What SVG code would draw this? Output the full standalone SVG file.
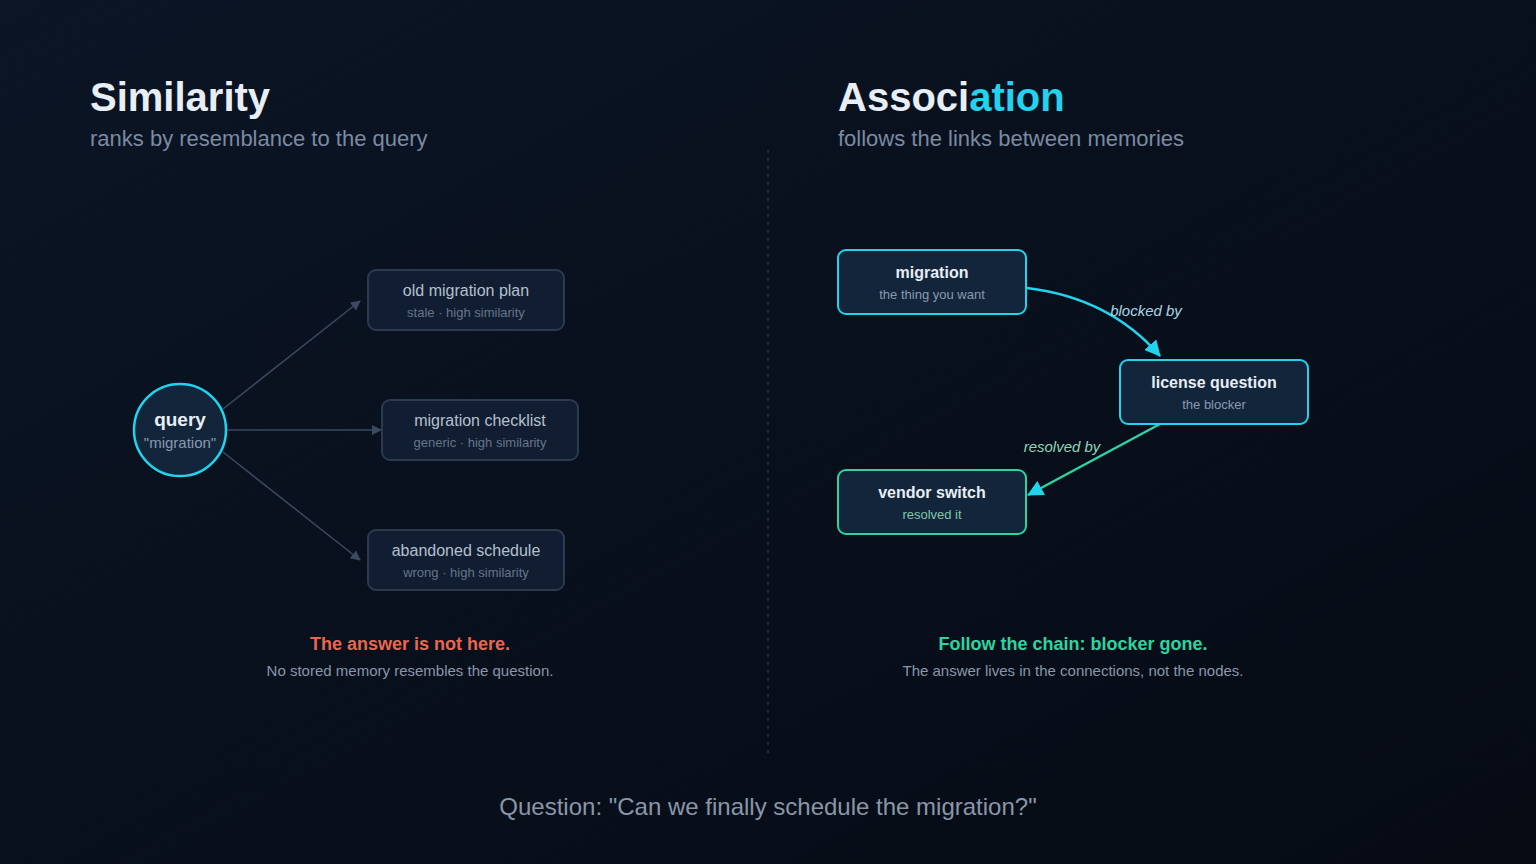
<svg xmlns="http://www.w3.org/2000/svg" width="1536" height="864" viewBox="0 0 1536 864">
<defs>
<linearGradient id="bg" x1="0" y1="0" x2="1" y2="1"><stop offset="0" stop-color="#0b1525"/><stop offset="1" stop-color="#060b14"/></linearGradient>
<marker id="ag" markerWidth="10" markerHeight="10" refX="9" refY="5" orient="auto" markerUnits="userSpaceOnUse"><path d="M0,0 L10,5 L0,10 z" fill="#3b4a60"/></marker>
<marker id="ac" markerWidth="16" markerHeight="16" refX="15" refY="8" orient="auto" markerUnits="userSpaceOnUse"><path d="M0,0 L16,8 L0,16 z" fill="#22d3ee"/></marker>
</defs>
<style>
text{font-family:"Liberation Sans",Arial,sans-serif;text-anchor:middle}
.h{font-size:40px;font-weight:bold;fill:#e8eef6;text-anchor:start}
.s{font-size:22px;fill:#7b8aa0;text-anchor:start}
.gb{fill:#111d30;stroke:#2c3a50;stroke-width:2}
.gt{font-size:16px;fill:#b4c0d0}
.gs{font-size:13px;fill:#66758a}
.nb{fill:#12253b;stroke-width:2}
.nt{font-size:16px;font-weight:bold;fill:#e8eef6}
.ns{font-size:13px;fill:#8a9ab0}
.lbl{font-size:15px;font-style:italic}
</style>
<rect width="1536" height="864" fill="url(#bg)"/>
<text class="h" x="90" y="111">Similarity</text>
<text class="s" x="90" y="146">ranks by resemblance to the query</text>
<text class="h" x="838" y="111">Associ<tspan fill="#22d3ee">ation</tspan></text>
<text class="s" x="838" y="146">follows the links between memories</text>
<line x1="768" y1="150" x2="768" y2="755" stroke="#2a3547" stroke-width="1.5" stroke-dasharray="3,5"/>
<g id="connectors">
<line x1="223" y1="409" x2="360" y2="301" stroke="#3b4a60" stroke-width="1.5" marker-end="url(#ag)"/>
<line x1="227" y1="430" x2="381" y2="430" stroke="#3b4a60" stroke-width="1.5" marker-end="url(#ag)"/>
<line x1="223" y1="452" x2="360" y2="560" stroke="#3b4a60" stroke-width="1.5" marker-end="url(#ag)"/>
<path d="M1027,288 Q1110,298 1160,356" fill="none" stroke="#22d3ee" stroke-width="2.5" marker-end="url(#ac)"/>
<line x1="1160" y1="424" x2="1028" y2="495" stroke="#2dd4a0" stroke-width="2.5" marker-end="url(#ac)"/>
<text class="lbl" x="1146" y="316" fill="#a5d8e6">blocked by</text>
<text class="lbl" x="1062" y="452" fill="#8fd6b8">resolved by</text>
</g>
<g id="query"><circle cx="180" cy="430" r="46" fill="#12253b" stroke="#22d3ee" stroke-width="2.5"/>
<text x="180" y="426" style="font-size:19px;font-weight:bold;fill:#e8eef6">query</text>
<text x="180" y="448" style="font-size:15px;fill:#8a9ab0">"migration"</text></g>
<g id="old"><rect class="gb" x="368" y="270" width="196" height="60" rx="8"/><text class="gt" x="466" y="296">old migration plan</text><text class="gs" x="466" y="317">stale · high similarity</text></g>
<g id="checklist"><rect class="gb" x="382" y="400" width="196" height="60" rx="8"/><text class="gt" x="480" y="426">migration checklist</text><text class="gs" x="480" y="447">generic · high similarity</text></g>
<g id="abandoned"><rect class="gb" x="368" y="530" width="196" height="60" rx="8"/><text class="gt" x="466" y="556">abandoned schedule</text><text class="gs" x="466" y="577">wrong · high similarity</text></g>
<g id="migration"><rect class="nb" x="838" y="250" width="188" height="64" rx="8" stroke="#22d3ee"/><text class="nt" x="932" y="278">migration</text><text class="ns" x="932" y="299">the thing you want</text></g>
<g id="license"><rect class="nb" x="1120" y="360" width="188" height="64" rx="8" stroke="#22d3ee"/><text class="nt" x="1214" y="388">license question</text><text class="ns" x="1214" y="409">the blocker</text></g>
<g id="vendor"><rect class="nb" x="838" y="470" width="188" height="64" rx="8" stroke="#2dd4a0"/><text class="nt" x="932" y="498">vendor switch</text><text class="ns" x="932" y="519" style="fill:#7fc9a8">resolved it</text></g>
<text x="410" y="650" style="font-size:18px;font-weight:bold;fill:#e8674f">The answer is not here.</text>
<text x="410" y="676" style="font-size:15px;fill:#8a96a8">No stored memory resembles the question.</text>
<text x="1073" y="650" style="font-size:18px;font-weight:bold;fill:#2dd4a0">Follow the chain: blocker gone.</text>
<text x="1073" y="676" style="font-size:15px;fill:#8a96a8">The answer lives in the connections, not the nodes.</text>
<text x="768" y="815" style="font-size:24px;fill:#8a96a8">Question: "Can we finally schedule the migration?"</text>
</svg>
